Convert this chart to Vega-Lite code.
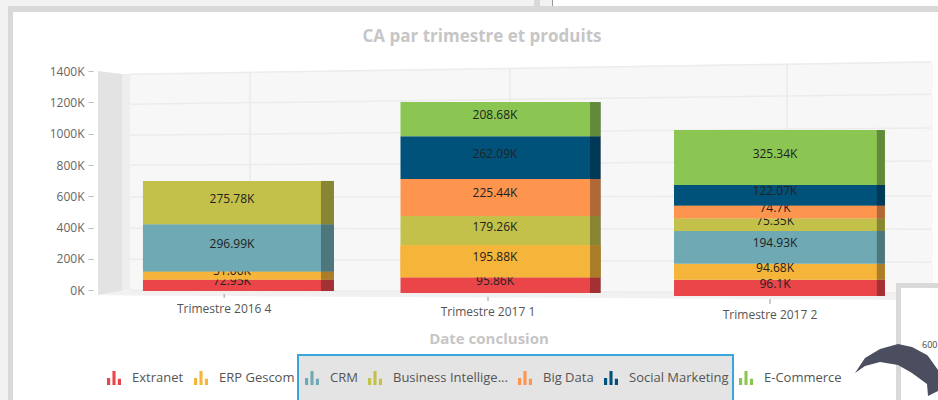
{"$schema":"https://vega.github.io/schema/vega-lite/v6.json","autosize":{"type":"none"},"padding":{"left":98,"top":56,"right":5,"bottom":102},"width":835,"height":242,"background":"#ffffff","datasets":{"page":[{"part":"page","x":0,"x1":8,"y":0,"y1":400},{"part":"page","x":8,"x1":552,"y":0,"y1":6},{"part":"frame","x":8,"x1":13,"y":6,"y1":400},{"part":"frame","x":8,"x1":938,"y":6,"y1":12},{"part":"frame","x":534,"x1":540,"y":0,"y1":6},{"part":"seam","x":552,"x1":553,"y":0,"y1":6},{"part":"side","x":98,"y":71,"y1":295},{"part":"side","x":122,"y":74,"y1":291},{"part":"strip","x":122,"y":74,"y1":291},{"part":"strip","x":130,"y":74,"y1":290},{"part":"floor","x":98,"y":295,"y1":295},{"part":"floor","x":130,"y":290,"y1":295.5},{"part":"floor","x":933,"y":293,"y1":300},{"part":"wall","x":130,"y":74,"y1":290},{"part":"wall","x":933,"y":61,"y1":293},{"part":"vgrid","x":250,"y":73,"y1":290},{"part":"vgrid","x":510,"y":68,"y1":291},{"part":"vgrid","x":787,"y":64,"y1":292},{"part":"box","x":298,"x1":733,"y":355,"y1":402},{"part":"panel","x":896,"x1":940,"y":283,"y1":402},{"part":"inner","x":901,"x1":940,"y":288,"y1":402},{"part":"swoosh","x":855,"y":373,"y1":373},{"part":"swoosh","x":865,"y":358,"y1":366},{"part":"swoosh","x":880,"y":349,"y1":362},{"part":"swoosh","x":898,"y":344,"y1":365},{"part":"swoosh","x":912,"y":347,"y1":373},{"part":"swoosh","x":927,"y":355,"y1":384},{"part":"swoosh","x":928,"y":356,"y1":396},{"part":"swoosh","x":938,"y":370,"y1":391},{"part":"axis-title","x":489,"y":339,"text":"Date conclusion"},{"part":"chart-title","x":482,"y":37,"text":"CA par trimestre et produits"},{"part":"clip-text","x":922,"y":345,"text":"600"}],"grid":[{"tick":"0K","x":130,"v":0},{"tick":"0K","x":931,"v":-19},{"tick":"200K","x":130,"v":198},{"tick":"200K","x":931,"v":179},{"tick":"400K","x":130,"v":396},{"tick":"400K","x":931,"v":390},{"tick":"600K","x":130,"v":595},{"tick":"600K","x":931,"v":601},{"tick":"800K","x":130,"v":799},{"tick":"800K","x":931,"v":825},{"tick":"1000K","x":130,"v":991},{"tick":"1000K","x":931,"v":1036},{"tick":"1200K","x":130,"v":1189},{"tick":"1200K","x":931,"v":1253},{"tick":"1400K","x":130,"v":1381},{"tick":"1400K","x":931,"v":1458}]},"data":{"values":[{"q":"Trimestre 2016 4","series":"Extranet","order":1,"value":72.95,"label":"72.95K"},{"q":"Trimestre 2016 4","series":"ERP Gescom","order":2,"value":51,"label":"51.00K"},{"q":"Trimestre 2016 4","series":"CRM","order":3,"value":296.99,"label":"296.99K"},{"q":"Trimestre 2016 4","series":"Business Intellige...","order":4,"value":275.78,"label":"275.78K"},{"q":"Trimestre 2017 1","series":"Extranet","order":1,"value":95.86,"label":"95.86K"},{"q":"Trimestre 2017 1","series":"ERP Gescom","order":2,"value":195.88,"label":"195.88K"},{"q":"Trimestre 2017 1","series":"Business Intellige...","order":4,"value":179.26,"label":"179.26K"},{"q":"Trimestre 2017 1","series":"Big Data","order":5,"value":225.44,"label":"225.44K"},{"q":"Trimestre 2017 1","series":"Social Marketing","order":6,"value":262.09,"label":"262.09K"},{"q":"Trimestre 2017 1","series":"E-Commerce","order":7,"value":208.68,"label":"208.68K"},{"q":"Trimestre 2017 2","series":"Extranet","order":1,"value":96.1,"label":"96.1K"},{"q":"Trimestre 2017 2","series":"ERP Gescom","order":2,"value":94.68,"label":"94.68K"},{"q":"Trimestre 2017 2","series":"CRM","order":3,"value":194.93,"label":"194.93K"},{"q":"Trimestre 2017 2","series":"Business Intellige...","order":4,"value":75.35,"label":"75.35K"},{"q":"Trimestre 2017 2","series":"Big Data","order":5,"value":74.7,"label":"74.7K"},{"q":"Trimestre 2017 2","series":"Social Marketing","order":6,"value":122.07,"label":"122.07K"},{"q":"Trimestre 2017 2","series":"E-Commerce","order":7,"value":325.34,"label":"325.34K"}]},"transform":[{"stack":"value","groupby":["q"],"sort":[{"field":"order","order":"ascending"}],"as":["y0","y1"]},{"calculate":"(datum.y0+datum.y1)/2","as":"mid"}],"layer":[{"data":{"name":"page"},"encoding":{"x":{"field":"x","type":"quantitative","scale":{"domain":[98,933],"nice":false,"zero":false},"axis":null},"y":{"field":"y","type":"quantitative","scale":{"domain":[298,56],"nice":false,"zero":false},"axis":null}},"layer":[{"transform":[{"filter":"datum.part==='page'"}],"mark":{"type":"rect","color":"#f2f2f2"},"encoding":{"x2":{"field":"x1"},"y2":{"field":"y1"}}},{"transform":[{"filter":"datum.part==='frame'"}],"mark":{"type":"rect","color":"#d9d9d9"},"encoding":{"x2":{"field":"x1"},"y2":{"field":"y1"}}},{"transform":[{"filter":"datum.part==='seam'"}],"mark":{"type":"rect","color":"#999999"},"encoding":{"x2":{"field":"x1"},"y2":{"field":"y1"}}},{"transform":[{"filter":"datum.part==='floor'"}],"mark":{"type":"area","color":"#f1f1f1"},"encoding":{"y2":{"field":"y1"}}},{"transform":[{"filter":"datum.part==='side'"}],"mark":{"type":"area","color":"#e4e3e3"},"encoding":{"y2":{"field":"y1"}}},{"transform":[{"filter":"datum.part==='strip'"}],"mark":{"type":"area","color":"#eeeeee"},"encoding":{"y2":{"field":"y1"}}},{"transform":[{"filter":"datum.part==='wall'"}],"mark":{"type":"area","color":"#f7f7f7"},"encoding":{"y2":{"field":"y1"}}},{"transform":[{"filter":"datum.part==='vgrid'"}],"mark":{"type":"rule","color":"#e3e3e3","strokeWidth":1},"encoding":{"y2":{"field":"y1"}}},{"transform":[{"filter":"datum.part==='box'"}],"mark":{"type":"rect","fill":"#e4e4e4","stroke":"#3aa6dc","strokeWidth":2},"encoding":{"x2":{"field":"x1"},"y2":{"field":"y1"}}},{"transform":[{"filter":"datum.part==='chart-title'"}],"mark":{"type":"text","font":"Open Sans","fontSize":17,"fontWeight":"bold","color":"#c6c6c6"},"encoding":{"text":{"field":"text"}}}]},{"data":{"name":"grid"},"mark":{"type":"line","color":"#ececec","strokeWidth":1.5},"encoding":{"detail":{"field":"tick"},"x":{"field":"x","type":"quantitative","scale":{"domain":[98,933],"nice":false,"zero":false},"axis":null},"y":{"field":"v","type":"quantitative","scale":{"domain":[-50,1497],"nice":false,"zero":false},"axis":{"title":null,"values":[0,200,400,600,800,1000,1200,1400],"labelExpr":"datum.value+'K'","grid":false,"domain":false,"offset":5,"tickSize":5,"tickColor":"#bbbbbb","labelPadding":4,"labelFont":"Open Sans","labelFontSize":12,"labelColor":"#666666"}}}},{"transform":[{"filter":"datum.q==='Trimestre 2016 4'"}],"encoding":{"x":{"field":"q","type":"nominal","scale":{"type":"band","domain":["Trimestre 2016 4","Trimestre 2017 1","Trimestre 2017 2"],"paddingInner":0,"paddingOuter":0},"axis":null}},"layer":[{"mark":{"type":"bar","width":191,"xOffset":1.3},"encoding":{"y":{"field":"y1","type":"quantitative","scale":{"domain":[-44.3,1487.3],"nice":false,"zero":false},"axis":null},"y2":{"field":"y0"},"color":{"field":"series","type":"nominal","scale":{"domain":["Extranet","ERP Gescom","CRM","Business Intellige...","Big Data","Social Marketing","E-Commerce"],"range":["#ea4549","#f5b43a","#6fa9b3","#c3c14a","#fd954f","#00527a","#8bc653"]},"legend":{"title":null,"orient":"none","legendX":9,"legendY":315,"direction":"horizontal","columns":7,"padding":0,"columnPadding":10,"symbolType":"M-1,1V0H-0.55V1Z M-0.22,1V-1H0.22V1Z M0.55,1V0.1H1V1Z","symbolSize":196,"symbolStrokeWidth":0,"labelOffset":11,"labelFont":"Open Sans","labelFontSize":13,"labelColor":"#555555","labelLimit":130}}}},{"transform":[{"filter":"datum.order===1"}],"mark":{"type":"text","font":"Open Sans","fontSize":12,"color":"#222222","xOffset":-5.2,"yOffset":-4},"encoding":{"text":{"field":"label"},"y":{"field":"mid","type":"quantitative","scale":{"domain":[-44.3,1487.3],"nice":false,"zero":false},"axis":null}}},{"transform":[{"filter":"datum.order===2"}],"mark":{"type":"bar","width":191,"xOffset":1.3,"color":"#f5b43a"},"encoding":{"y":{"field":"y1","type":"quantitative","scale":{"domain":[-44.3,1487.3],"nice":false,"zero":false},"axis":null},"y2":{"field":"y0"}}},{"transform":[{"filter":"datum.order===2"}],"mark":{"type":"text","font":"Open Sans","fontSize":12,"color":"#222222","xOffset":-5.2,"yOffset":-4},"encoding":{"text":{"field":"label"},"y":{"field":"mid","type":"quantitative","scale":{"domain":[-44.3,1487.3],"nice":false,"zero":false},"axis":null}}},{"transform":[{"filter":"datum.order===3"}],"mark":{"type":"bar","width":191,"xOffset":1.3,"color":"#6fa9b3"},"encoding":{"y":{"field":"y1","type":"quantitative","scale":{"domain":[-44.3,1487.3],"nice":false,"zero":false},"axis":null},"y2":{"field":"y0"}}},{"transform":[{"filter":"datum.order>=3"}],"mark":{"type":"text","font":"Open Sans","fontSize":12,"color":"#222222","xOffset":-5.2,"yOffset":-4},"encoding":{"text":{"field":"label"},"y":{"field":"mid","type":"quantitative","scale":{"domain":[-44.3,1487.3],"nice":false,"zero":false},"axis":null}}},{"mark":{"type":"bar","width":13,"xOffset":90.3,"color":"#000000","opacity":0.3},"encoding":{"y":{"field":"y1","type":"quantitative","scale":{"domain":[-44.3,1487.3],"nice":false,"zero":false},"axis":null},"y2":{"field":"y0"}}},{"transform":[{"filter":"datum.order===1"}],"mark":{"type":"rule","color":"#999999","xOffset":-13},"encoding":{"y":{"datum":-19,"type":"quantitative","scale":{"domain":[-44.3,1487.3],"nice":false,"zero":false},"axis":null},"y2":{"datum":-44}}},{"transform":[{"filter":"datum.order===1"}],"mark":{"type":"text","font":"Open Sans","fontSize":12,"color":"#555555","xOffset":-13},"encoding":{"text":{"field":"q"},"y":{"datum":-114,"type":"quantitative","scale":{"domain":[-44.3,1487.3],"nice":false,"zero":false},"axis":null}}}]},{"transform":[{"filter":"datum.q==='Trimestre 2017 1'"}],"encoding":{"x":{"field":"q","type":"nominal","scale":{"type":"band","domain":["Trimestre 2016 4","Trimestre 2017 1","Trimestre 2017 2"],"paddingInner":0,"paddingOuter":0},"axis":null}},"layer":[{"mark":{"type":"bar","width":200,"xOffset":-15},"encoding":{"y":{"field":"y1","type":"quantitative","scale":{"domain":[-30.6,1448.6],"nice":false,"zero":false},"axis":null},"y2":{"field":"y0"},"color":{"field":"series","type":"nominal","scale":{"domain":["Extranet","ERP Gescom","CRM","Business Intellige...","Big Data","Social Marketing","E-Commerce"],"range":["#ea4549","#f5b43a","#6fa9b3","#c3c14a","#fd954f","#00527a","#8bc653"]},"legend":null}}},{"transform":[{"filter":"datum.order===1"}],"mark":{"type":"text","font":"Open Sans","fontSize":12,"color":"#222222","xOffset":-20.5,"yOffset":-4},"encoding":{"text":{"field":"label"},"y":{"field":"mid","type":"quantitative","scale":{"domain":[-30.6,1448.6],"nice":false,"zero":false},"axis":null}}},{"transform":[{"filter":"datum.order===2"}],"mark":{"type":"bar","width":200,"xOffset":-15,"color":"#f5b43a"},"encoding":{"y":{"field":"y1","type":"quantitative","scale":{"domain":[-30.6,1448.6],"nice":false,"zero":false},"axis":null},"y2":{"field":"y0"}}},{"transform":[{"filter":"datum.order>=2"}],"mark":{"type":"text","font":"Open Sans","fontSize":12,"color":"#222222","xOffset":-20.5,"yOffset":-4},"encoding":{"text":{"field":"label"},"y":{"field":"mid","type":"quantitative","scale":{"domain":[-30.6,1448.6],"nice":false,"zero":false},"axis":null}}},{"mark":{"type":"bar","width":11,"xOffset":80,"color":"#000000","opacity":0.3},"encoding":{"y":{"field":"y1","type":"quantitative","scale":{"domain":[-30.6,1448.6],"nice":false,"zero":false},"axis":null},"y2":{"field":"y0"}}},{"transform":[{"filter":"datum.order===1"}],"mark":{"type":"rule","color":"#999999","xOffset":-27.5},"encoding":{"y":{"datum":-24,"type":"quantitative","scale":{"domain":[-30.6,1448.6],"nice":false,"zero":false},"axis":null},"y2":{"datum":-49}}},{"transform":[{"filter":"datum.order===1"}],"mark":{"type":"text","font":"Open Sans","fontSize":12,"color":"#555555","xOffset":-27.5},"encoding":{"text":{"field":"q"},"y":{"datum":-116,"type":"quantitative","scale":{"domain":[-30.6,1448.6],"nice":false,"zero":false},"axis":null}}}]},{"transform":[{"filter":"datum.q==='Trimestre 2017 2'"}],"encoding":{"x":{"field":"q","type":"nominal","scale":{"type":"band","domain":["Trimestre 2016 4","Trimestre 2017 1","Trimestre 2017 2"],"paddingInner":0,"paddingOuter":0},"axis":null}},"layer":[{"mark":{"type":"bar","width":211,"xOffset":-14.3},"encoding":{"y":{"field":"y1","type":"quantitative","scale":{"domain":[-11.8,1421.8],"nice":false,"zero":false},"axis":null},"y2":{"field":"y0"},"color":{"field":"series","type":"nominal","scale":{"domain":["Extranet","ERP Gescom","CRM","Business Intellige...","Big Data","Social Marketing","E-Commerce"],"range":["#ea4549","#f5b43a","#6fa9b3","#c3c14a","#fd954f","#00527a","#8bc653"]},"legend":null}}},{"transform":[{"filter":"datum.order<=4"}],"mark":{"type":"text","font":"Open Sans","fontSize":12,"color":"#222222","xOffset":-18.8,"yOffset":-4},"encoding":{"text":{"field":"label"},"y":{"field":"mid","type":"quantitative","scale":{"domain":[-11.8,1421.8],"nice":false,"zero":false},"axis":null}}},{"transform":[{"filter":"datum.order===5"}],"mark":{"type":"bar","width":211,"xOffset":-14.3,"color":"#fd954f"},"encoding":{"y":{"field":"y1","type":"quantitative","scale":{"domain":[-11.8,1421.8],"nice":false,"zero":false},"axis":null},"y2":{"field":"y0"}}},{"transform":[{"filter":"datum.order===5"}],"mark":{"type":"text","font":"Open Sans","fontSize":12,"color":"#222222","xOffset":-18.8,"yOffset":-4},"encoding":{"text":{"field":"label"},"y":{"field":"mid","type":"quantitative","scale":{"domain":[-11.8,1421.8],"nice":false,"zero":false},"axis":null}}},{"transform":[{"filter":"datum.order===6"}],"mark":{"type":"bar","width":211,"xOffset":-14.3,"color":"#00527a"},"encoding":{"y":{"field":"y1","type":"quantitative","scale":{"domain":[-11.8,1421.8],"nice":false,"zero":false},"axis":null},"y2":{"field":"y0"}}},{"transform":[{"filter":"datum.order>=6"}],"mark":{"type":"text","font":"Open Sans","fontSize":12,"color":"#222222","xOffset":-18.8,"yOffset":-4},"encoding":{"text":{"field":"label"},"y":{"field":"mid","type":"quantitative","scale":{"domain":[-11.8,1421.8],"nice":false,"zero":false},"axis":null}}},{"mark":{"type":"bar","width":8,"xOffset":87,"color":"#000000","opacity":0.3},"encoding":{"y":{"field":"y1","type":"quantitative","scale":{"domain":[-11.8,1421.8],"nice":false,"zero":false},"axis":null},"y2":{"field":"y0"}}},{"transform":[{"filter":"datum.order===1"}],"mark":{"type":"rule","color":"#999999","xOffset":-23.8},"encoding":{"y":{"datum":-18,"type":"quantitative","scale":{"domain":[-11.8,1421.8],"nice":false,"zero":false},"axis":null},"y2":{"datum":-47}}},{"transform":[{"filter":"datum.order===1"}],"mark":{"type":"text","font":"Open Sans","fontSize":12,"color":"#555555","xOffset":-23.8},"encoding":{"text":{"field":"q"},"y":{"datum":-112.6,"type":"quantitative","scale":{"domain":[-11.8,1421.8],"nice":false,"zero":false},"axis":null}}}]},{"data":{"name":"page"},"encoding":{"x":{"field":"x","type":"quantitative","scale":{"domain":[98,933],"nice":false,"zero":false},"axis":null},"y":{"field":"y","type":"quantitative","scale":{"domain":[298,56],"nice":false,"zero":false},"axis":null}},"layer":[{"transform":[{"filter":"datum.part==='panel'"}],"mark":{"type":"rect","color":"#d9d9d9"},"encoding":{"x2":{"field":"x1"},"y2":{"field":"y1"}}},{"transform":[{"filter":"datum.part==='inner'"}],"mark":{"type":"rect","color":"#ffffff"},"encoding":{"x2":{"field":"x1"},"y2":{"field":"y1"}}},{"transform":[{"filter":"datum.part==='clip-text'"}],"mark":{"type":"text","font":"Open Sans","fontSize":9,"color":"#444444","align":"left"},"encoding":{"text":{"field":"text"}}},{"transform":[{"filter":"datum.part==='swoosh'"}],"mark":{"type":"area","color":"#4a4e5e"},"encoding":{"y2":{"field":"y1"}}},{"transform":[{"filter":"datum.part==='axis-title'"}],"mark":{"type":"text","font":"Open Sans","fontSize":15,"fontWeight":"bold","color":"#c6c6c6"},"encoding":{"text":{"field":"text"}}}]}],"resolve":{"scale":{"x":"independent","y":"independent"},"axis":{"x":"independent","y":"independent"}},"config":{"view":{"stroke":null}}}
